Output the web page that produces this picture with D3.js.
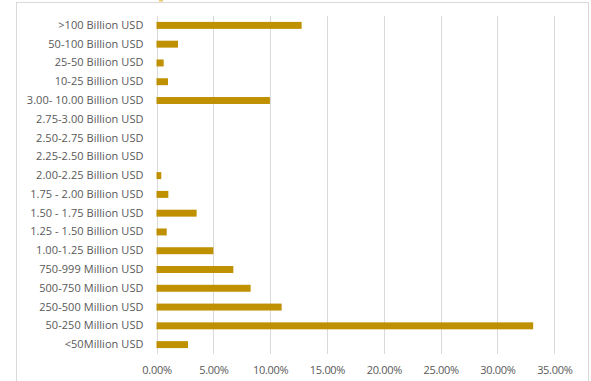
<!DOCTYPE html>
<html>
<head>
<meta charset="utf-8">
<script src="https://cdn.jsdelivr.net/npm/d3@7"></script>
<style>
  html, body { margin: 0; padding: 0; background: #fff; }
  svg { display: block; }
</style>
</head>
<body>
<svg id="chart" width="591" height="381"></svg>
<script>
const categories = [
  ">100 Billion USD",
  "50-100 Billion USD",
  "25-50 Billion USD",
  "10-25 Billion USD",
  "3.00- 10.00 Billion USD",
  "2.75-3.00 Billion USD",
  "2.50-2.75 Billion USD",
  "2.25-2.50 Billion USD",
  "2.00-2.25 Billion USD",
  "1.75 - 2.00 Billion USD",
  "1.50 - 1.75 Billion USD",
  "1.25 - 1.50 Billion USD",
  "1.00-1.25 Billion USD",
  "750-999 Million USD",
  "500-750 Million USD",
  "250-500 Million USD",
  "50-250 Million USD",
  "<50Million USD"
];
const values = [12.77, 1.89, 0.63, 1.01, 9.98, 0, 0, 0, 0.42, 1.04, 3.53, 0.9, 5.0, 6.76, 8.28, 11.01, 33.14, 2.77];
const xTicks = [0, 5, 10, 15, 20, 25, 30, 35];

const svg = d3.select("#chart");
const plot = { left: 156.5, right: 554.3, top: 16, bottom: 354 };

// outer chart frame
svg.append("rect")
  .attr("x", 16.5).attr("y", 2.5)
  .attr("width", 572).attr("height", 390)
  .attr("fill", "#fff").attr("stroke", "#d9d9d9").attr("stroke-width", 1);

// hint of cut-off title
svg.append("rect").attr("x", 159).attr("y", 0).attr("width", 4).attr("height", 1.5).attr("fill", "#e8c96a");

const x = d3.scaleLinear().domain([0, 35]).range([plot.left, plot.right]);
const y = d3.scaleBand().domain(categories).range([plot.top, plot.bottom]).paddingInner(0.63).paddingOuter(0.315);

// gridlines
svg.append("g").selectAll("line").data(xTicks).join("line")
  .attr("x1", d => Math.round(x(d)) + 0.5).attr("x2", d => Math.round(x(d)) + 0.5)
  .attr("y1", plot.top).attr("y2", plot.bottom)
  .attr("stroke", "#d9d9d9").attr("stroke-width", 1);

// bars
svg.append("g").selectAll("rect").data(categories).join("rect")
  .attr("x", x(0))
  .attr("y", (d) => y(d))
  .attr("width", (d, i) => x(values[i]) - x(0))
  .attr("height", y.bandwidth())
  .attr("fill", "#bf9000");

// x axis labels
const xAxis = d3.axisBottom(x).tickValues(xTicks).tickFormat(d => d.toFixed(2) + "%").tickSize(0).tickPadding(0);
const gx = svg.append("g").attr("transform", `translate(0,${plot.bottom + 12})`).call(xAxis);
gx.select(".domain").remove();
gx.selectAll("text").attr("fill", "#595959").attr("font-size", "11px").attr("font-family", "'Open Sans', sans-serif").attr("dy", "0.32em").attr("y", 4.5).attr("letter-spacing", "-0.3px");

// y axis labels
const yAxis = d3.axisLeft(y).tickSize(0).tickPadding(0);
const gy = svg.append("g").attr("transform", `translate(${plot.left - 13},0)`).call(yAxis);
gy.select(".domain").remove();
gy.selectAll("text").attr("fill", "#595959").attr("font-size", "11px").attr("font-family", "'Open Sans', sans-serif").attr("letter-spacing", "0.05px");
</script>
</body>
</html>
